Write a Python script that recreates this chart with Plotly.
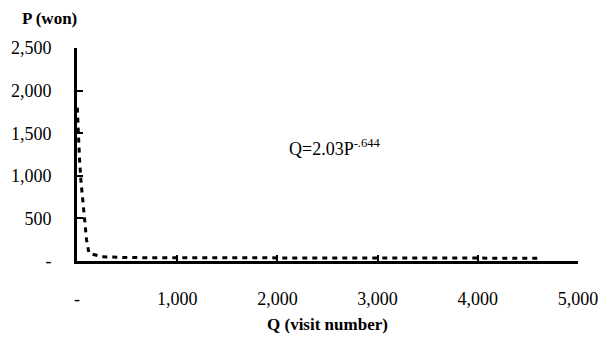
import plotly.graph_objects as go

# Data
q_values = [3, 12, 25, 40, 55, 75, 95, 120, 250, 500, 1000, 1500, 2000, 2500, 3000, 3500, 4000, 4600]
p_values = [1800, 1450, 1200, 930, 700, 500, 250, 90, 50, 40, 38, 37, 36, 35, 35, 34, 34, 33]

x_tickvals = [0, 1000, 2000, 3000, 4000, 5000]
x_ticktext = ["-", "1,000", "2,000", "3,000", "4,000", "5,000"]
y_tickvals = [0, 500, 1000, 1500, 2000, 2500]
y_ticktext = ["-", "500", "1,000", "1,500", "2,000", "2,500"]

FONT = "Liberation Serif, Times New Roman, serif"

fig = go.Figure()
fig.add_trace(go.Scatter(
    x=q_values, y=p_values, mode="lines",
    line=dict(color="black", width=3, dash="5px,5px"),
    showlegend=False, hoverinfo="skip",
))

fig.update_layout(
    width=605, height=332,
    margin=dict(l=69, r=35, t=40, b=79),
    paper_bgcolor="white", plot_bgcolor="white",
    font=dict(family=FONT, size=18, color="black"),
    showlegend=False,
)

fig.update_xaxes(
    range=[0, 5000], tickvals=x_tickvals, ticktext=x_ticktext, automargin=False,
    showgrid=False, zeroline=False, showline=True, linecolor="black", linewidth=3,
    ticks="inside", ticklen=6, tickwidth=2, tickcolor="black",
    ticklabelstandoff=19, tickfont=dict(family=FONT, size=18, color="black"),
)
fig.update_yaxes(
    range=[0, 2500], tickvals=y_tickvals, ticktext=y_ticktext, automargin=False,
    showgrid=False, zeroline=False, showline=True, linecolor="black", linewidth=3,
    ticks="inside", ticklen=6, tickwidth=2, tickcolor="black",
    ticklabelstandoff=19, tickfont=dict(family=FONT, size=18, color="black"),
)

fig.add_annotation(
    xref="paper", yref="paper", x=-0.114, y=1.138, xanchor="left", yanchor="middle",
    text="<b>P (won)</b>", showarrow=False, font=dict(family=FONT, size=17, color="black"),
)
fig.add_annotation(
    xref="paper", yref="paper", x=0.5, y=-0.30, xanchor="center", yanchor="middle",
    text="<b>Q (visit number)</b>", showarrow=False, font=dict(family=FONT, size=17, color="black"),
)
fig.add_annotation(
    xref="x", yref="y", x=2100, y=1330, xanchor="left", yanchor="middle",
    text="Q=2.03P<sup>-.644</sup>", showarrow=False, font=dict(family=FONT, size=18, color="black"),
)

fig.write_html("out.html")
